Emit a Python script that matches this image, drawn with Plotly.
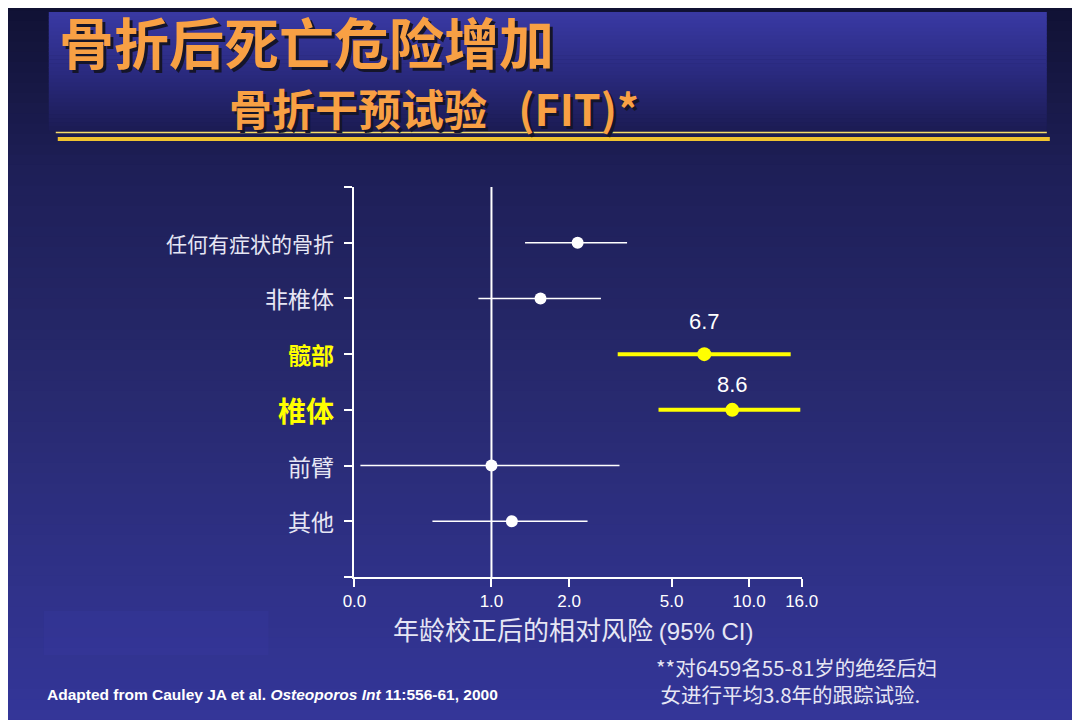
import math
import plotly.graph_objects as go

# forest plot data (relative risk with 95% CI)
categories = ["任何有症状的骨折", "非椎体", "髋部", "椎体", "前臂", "其他"]
rr = [2.16, 1.55, 6.7, 8.6, 1.0, 1.2]
ci_low = [1.35, 0.89, 3.09, 4.45, 0.31, 0.59]
ci_high = [3.36, 2.66, 14.5, 15.8, 3.14, 2.36]
highlight = [False, False, True, True, False, False]
value_labels = ["", "", "6.7", "8.6", "", ""]

tick_vals = [0.294, 1, 2, 5, 10, 16]
tick_text = ["0.0", "1.0", "2.0", "5.0", "10.0", "16.0"]

W, H = 1080, 720
CJK = "Noto Sans CJK SC"
LAT = "Liberation Sans"
WHITE = "#ffffff"
YELLOW = "#ffff00"
LABEL = "#e6e6f4"
ORANGE = "#f8a044"

# pixel -> paper helpers (tuned against the rendered page)
def px(x):
    return (x - 19.2) / 0.975 / W

def py(y):
    return 1 - (y - 8) / H

def lerp_stops(stops, t):
    for (t0, c0), (t1, c1) in zip(stops, stops[1:]):
        if t0 <= t <= t1:
            f = (t - t0) / (t1 - t0)
            c = [round(a + (b - a) * f) for a, b in zip(c0, c1)]
            return "rgb(%d,%d,%d)" % tuple(c)
    return "rgb(%d,%d,%d)" % stops[-1][1]

shapes = []

# background gradient (strips)
bg_stops = [(0, (15, 16, 48)), (0.25, (30, 31, 88)), (0.5, (38, 40, 106)),
            (0.75, (46, 48, 132)), (1, (52, 54, 154))]
n = 72
for i in range(n):
    y0 = -10 + (H + 20) * i / n
    y1 = -10 + (H + 20) * (i + 1) / n + 1
    shapes.append(dict(type="rect", xref="paper", yref="paper", layer="below",
                       x0=-0.1, x1=1.1, y0=py(y1), y1=py(y0), line_width=0,
                       fillcolor=lerp_stops(bg_stops, (i + 0.5) / n)))

# title band gradient
band_stops = [(0, (58, 58, 164)), (0.5, (42, 42, 128)), (1, (28, 28, 84))]
bt, bb = 12, 130
m = 30
for i in range(m):
    y0 = bt + (bb - bt) * i / m
    y1 = bt + (bb - bt) * (i + 1) / m + 0.6
    shapes.append(dict(type="rect", xref="paper", yref="paper", layer="below",
                       x0=px(48), x1=px(1047), y0=py(y1), y1=py(y0), line_width=0,
                       fillcolor=lerp_stops(band_stops, (i + 0.5) / m)))

# faint box bottom-left
shapes.append(dict(type="rect", xref="paper", yref="paper", layer="below",
                   x0=px(43), x1=px(268), y0=py(655), y1=py(611), line_width=0,
                   fillcolor="rgba(60,60,170,0.22)"))

# underline rules
shapes.append(dict(type="line", xref="paper", yref="paper",
                   x0=px(55), x1=px(1047), y0=py(132.5), y1=py(132.5),
                   line=dict(color="#f5dc6a", width=1.5)))
shapes.append(dict(type="line", xref="paper", yref="paper",
                   x0=px(57), x1=px(1050), y0=py(139), y1=py(139),
                   line=dict(color="#f0c230", width=4)))

rows = list(range(1, len(categories) + 1))

fig = go.Figure()

# reference line at RR = 1
fig.add_trace(go.Scatter(x=[1, 1], y=[0, 7], mode="lines",
                         line=dict(color=WHITE, width=2), hoverinfo="skip",
                         showlegend=False))

for hl, color, lw, ms in [(False, WHITE, 1.4, 12), (True, YELLOW, 4, 14)]:
    idx = [i for i, h in enumerate(highlight) if h == hl]
    fig.add_trace(go.Scatter(
        x=[rr[i] for i in idx],
        y=[rows[i] for i in idx],
        mode="markers",
        marker=dict(color=color, size=ms, line=dict(width=0)),
        error_x=dict(type="data", symmetric=False,
                     array=[ci_high[i] - rr[i] for i in idx],
                     arrayminus=[rr[i] - ci_low[i] for i in idx],
                     color=color, thickness=lw, width=0),
        showlegend=False,
    ))

annotations = []

# category labels
label_sizes = [21, 23, 23, 28, 23, 23]
for i, cat in enumerate(categories):
    if highlight[i]:
        text, col = "<b>%s</b>" % cat, YELLOW
    else:
        text, col = cat, LABEL
    annotations.append(dict(x=px(335), y=rows[i], xref="paper", yref="y",
                            xanchor="right", yanchor="middle", showarrow=False,
                            text=text,
                            font=dict(family=CJK, size=label_sizes[i], color=col)))

# value labels above highlighted points
shifts = [0, 0, 33, 25, 0, 0]
for i, lab in enumerate(value_labels):
    if lab:
        annotations.append(dict(x=math.log10(rr[i]), y=rows[i], xref="x", yref="y",
                                xanchor="center", yanchor="middle",
                                showarrow=False, yshift=shifts[i], text=lab,
                                font=dict(family=LAT, size=22, color=WHITE)))

# axis title
annotations.append(dict(x=px(573), y=py(628), xref="paper", yref="paper",
                        xanchor="center", yanchor="middle",
                        showarrow=False,
                        text="年龄校正后的相对风险 <span style='font-family:Liberation Sans;font-size:24px'>(95% CI)</span>",
                        font=dict(family=CJK, size=26, color=LABEL)))

# title with shadow
for dx, col in [(3, "#15152a"), (0, ORANGE)]:
    annotations.append(dict(x=px(56), y=py(40), xref="paper", yref="paper",
                            xanchor="left", yanchor="middle", showarrow=False,
                            xshift=dx, yshift=-dx, text="<b>骨折后死亡危险增加</b>",
                            font=dict(family=CJK, size=55, color=col)))
    annotations.append(dict(x=px(226), y=py(107), xref="paper", yref="paper",
                            xanchor="left", yanchor="middle", showarrow=False,
                            xshift=dx, yshift=-dx, text="<b>骨折干预试验\u2002 (FIT)*</b>",
                            font=dict(family=CJK, size=43, color=col)))

# footnotes
annotations.append(dict(x=px(44), y=py(694), xref="paper", yref="paper",
                        xanchor="left", yanchor="middle", showarrow=False,
                        text="<b>Adapted from Cauley JA et al. <i>Osteoporos Int</i> 11:556-61, 2000</b>",
                        font=dict(family=LAT, size=15.5, color=WHITE)))
annotations.append(dict(x=px(654), y=py(680), xref="paper", yref="paper",
                        xanchor="left", yanchor="middle", showarrow=False, align="left",
                        text="**对6459名55-81岁的绝经后妇<br> 女进行平均3.8年的跟踪试验.",
                        font=dict(family=CJK, size=20.5, color=LABEL)))

fig.update_layout(
    width=W, height=H,
    margin=dict(l=0, r=0, t=0, b=0),
    paper_bgcolor="#262868",
    plot_bgcolor="rgba(0,0,0,0)",
    shapes=shapes,
    annotations=annotations,
    showlegend=False,
    xaxis=dict(
        type="log",
        domain=[px(354), px(802)],
        range=[math.log10(0.294), math.log10(16.05)],
        showline=True, linecolor=WHITE, linewidth=2,
        ticks="outside", ticklen=8, tickwidth=2, tickcolor=WHITE,
        tickvals=tick_vals, ticktext=tick_text,
        tickfont=dict(family=LAT, size=17, color=WHITE),
        showgrid=False, zeroline=False,
    ),
    yaxis=dict(
        domain=[py(577), py(187)],
        range=[7, 0],
        showline=True, linecolor=WHITE, linewidth=2,
        ticks="outside", ticklen=8, tickwidth=2, tickcolor=WHITE,
        tickvals=list(range(0, 8)), showticklabels=False,
        showgrid=False, zeroline=False,
    ),
)

fig.write_html("out.html")
